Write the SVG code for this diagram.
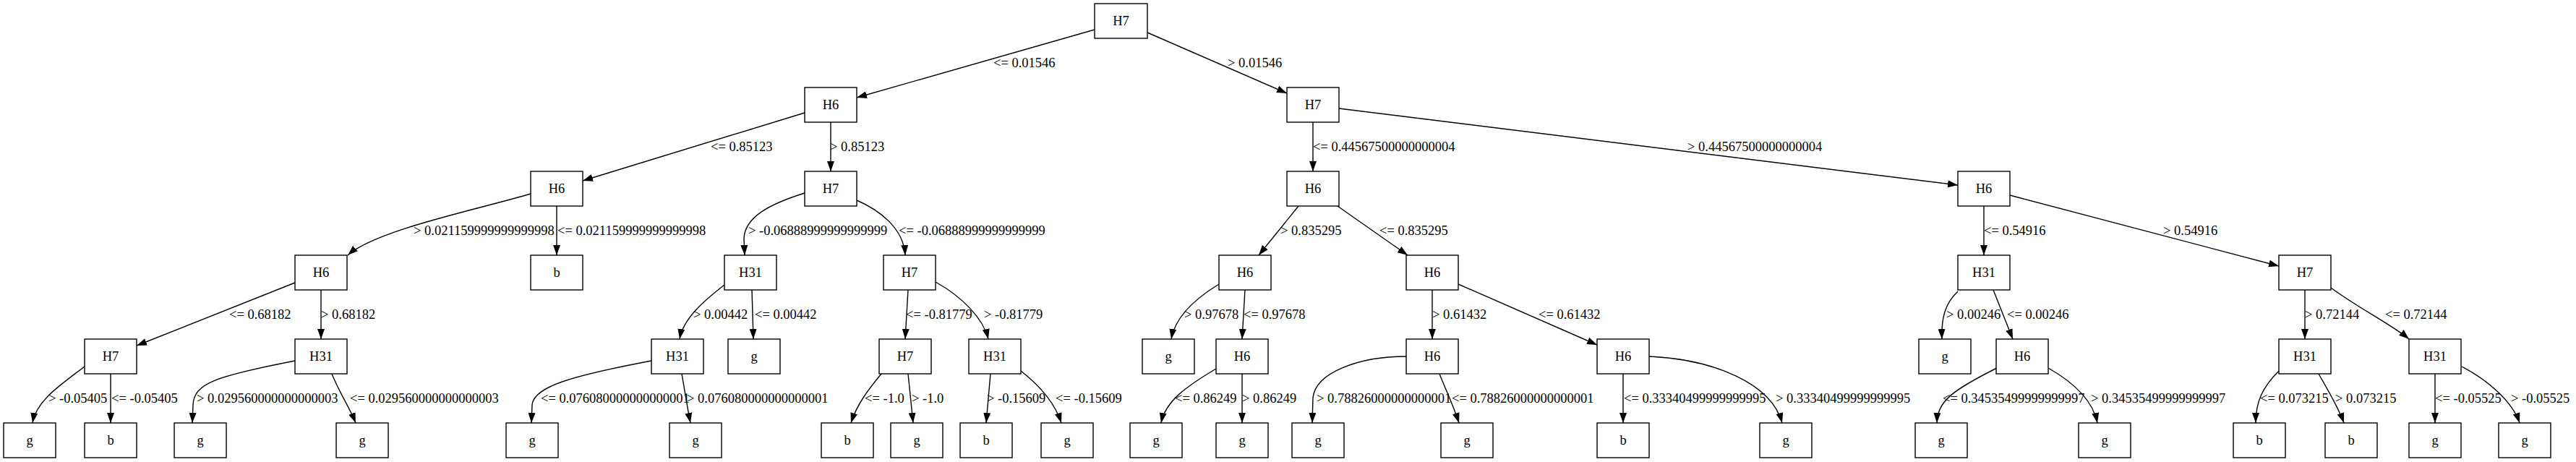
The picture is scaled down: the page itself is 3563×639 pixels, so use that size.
<svg xmlns="http://www.w3.org/2000/svg" width="3563" height="639" viewBox="0 0 3563 639">
<style>
.n rect{fill:#fff;stroke:#000;stroke-width:1.4}
.n text{font-family:"Liberation Serif","Times New Roman",serif;font-size:18.5px;text-anchor:middle;fill:#000}
.e path{fill:none;stroke:#000;stroke-width:1.4;marker-end:url(#ah)}
.l text{font-family:"Liberation Serif","Times New Roman",serif;font-size:18.5px;fill:#000}
</style>
<defs>
<marker id="ah" viewBox="0 0 14 10" refX="14" refY="5" markerWidth="14" markerHeight="10" markerUnits="userSpaceOnUse" orient="auto"><path d="M0,0 L14,5 L0,10 z" fill="#000"/></marker>
</defs>
<rect width="3563" height="639" fill="#fff"/>
<g id="edges" class="e">
<path d="M1514,41 L1185,135"/>
<path d="M1587,45 L1780,129"/>
<path d="M1113,156 L806,250"/>
<path d="M1149,169 L1149,237"/>
<path d="M734,268 C660,290 520,318 481,353"/>
<path d="M770,285 L770,353"/>
<path d="M408,391 L189,478"/>
<path d="M444,401 L444,469"/>
<path d="M117,507 C80,535 50,555 45,585"/>
<path d="M153,517 L153,585"/>
<path d="M408,499 C300,520 268,530 267,560 L266,585"/>
<path d="M459,517 C468,540 484,565 492,585"/>
<path d="M1113,267 C1065,282 1030,300 1029,330 L1030,353"/>
<path d="M1185,277 C1215,290 1250,315 1252,353"/>
<path d="M1002,394 C975,415 945,440 940,469"/>
<path d="M1040,401 L1042,469"/>
<path d="M1256,401 L1252,469"/>
<path d="M1294,390 C1330,410 1360,440 1367,469"/>
<path d="M901,499 C790,520 738,535 736,560 L735,585"/>
<path d="M943,517 C947,540 951,565 955,585"/>
<path d="M1219,517 C1200,540 1185,560 1177,585"/>
<path d="M1256,517 L1263,585"/>
<path d="M1370,517 L1364,585"/>
<path d="M1412,513 C1440,535 1460,560 1468,585"/>
<path d="M1816,169 L1816,237"/>
<path d="M1852,150 L2708,256"/>
<path d="M1796,285 L1741,353"/>
<path d="M1850,285 L1947,353"/>
<path d="M1686,393 C1650,415 1625,440 1620,469"/>
<path d="M1722,401 L1718,469"/>
<path d="M1682,510 C1640,535 1612,555 1606,585"/>
<path d="M1718,517 L1718,585"/>
<path d="M1981,401 L1981,469"/>
<path d="M2017,393 L2209,477"/>
<path d="M1945,493 C1880,493 1820,515 1816,550 L1815,585"/>
<path d="M1991,517 C2000,540 2010,560 2018,585"/>
<path d="M2245,517 L2245,585"/>
<path d="M2281,493 C2370,497 2450,530 2465,585"/>
<path d="M2744,285 L2744,353"/>
<path d="M2780,270 L3152,368"/>
<path d="M2708,403 C2690,420 2685,440 2686,469"/>
<path d="M2757,401 L2784,469"/>
<path d="M2762,509 C2700,540 2680,555 2679,585"/>
<path d="M2833,509 C2870,530 2895,555 2901,585"/>
<path d="M3188,401 L3188,469"/>
<path d="M3224,398 C3260,425 3310,450 3332,469"/>
<path d="M3152,513 C3130,535 3120,555 3120,585"/>
<path d="M3207,517 C3220,540 3235,565 3242,585"/>
<path d="M3368,517 L3368,585"/>
<path d="M3405,507 C3440,525 3475,555 3485,585"/>
</g>
<g id="edge-labels" class="l">
<text x="1374" y="93">&lt;= 0.01546</text>
<text x="1698" y="93">&gt; 0.01546</text>
<text x="983" y="209">&lt;= 0.85123</text>
<text x="1148" y="209">&gt; 0.85123</text>
<text x="1816" y="209">&lt;= 0.44567500000000004</text>
<text x="2334" y="209">&gt; 0.44567500000000004</text>
<text x="572" y="325">&gt; 0.021159999999999998</text>
<text x="771" y="325">&lt;= 0.021159999999999998</text>
<text x="1035" y="325">&gt; -0.06888999999999999</text>
<text x="1243" y="325">&lt;= -0.06888999999999999</text>
<text x="1771" y="325">&gt; 0.835295</text>
<text x="1908" y="325">&lt;= 0.835295</text>
<text x="2744" y="325">&lt;= 0.54916</text>
<text x="2992" y="325">&gt; 0.54916</text>
<text x="317" y="441">&lt;= 0.68182</text>
<text x="444" y="441">&gt; 0.68182</text>
<text x="959" y="441">&gt; 0.00442</text>
<text x="1044" y="441">&lt;= 0.00442</text>
<text x="1253" y="441">&lt;= -0.81779</text>
<text x="1361" y="441">&gt; -0.81779</text>
<text x="1638" y="441">&gt; 0.97678</text>
<text x="1720" y="441">&lt;= 0.97678</text>
<text x="1981" y="441">&gt; 0.61432</text>
<text x="2128" y="441">&lt;= 0.61432</text>
<text x="2692" y="441">&gt; 0.00246</text>
<text x="2776" y="441">&lt;= 0.00246</text>
<text x="3188" y="441">&gt; 0.72144</text>
<text x="3299" y="441">&lt;= 0.72144</text>
<text x="67" y="557">&gt; -0.05405</text>
<text x="154" y="557">&lt;= -0.05405</text>
<text x="272" y="557">&gt; 0.029560000000000003</text>
<text x="484" y="557">&lt;= 0.029560000000000003</text>
<text x="748" y="557">&lt;= 0.076080000000000001</text>
<text x="950" y="557">&gt; 0.076080000000000001</text>
<text x="1196" y="557">&lt;= -1.0</text>
<text x="1261" y="557">&gt; -1.0</text>
<text x="1365" y="557">&gt; -0.15609</text>
<text x="1460" y="557">&lt;= -0.15609</text>
<text x="1625" y="557">&lt;= 0.86249</text>
<text x="1718" y="557">&gt; 0.86249</text>
<text x="1821" y="557">&gt; 0.78826000000000001</text>
<text x="2008" y="557">&lt;= 0.78826000000000001</text>
<text x="2246" y="557">&lt;= 0.33340499999999995</text>
<text x="2456" y="557">&gt; 0.33340499999999995</text>
<text x="2687" y="557">&lt;= 0.34535499999999997</text>
<text x="2892" y="557">&gt; 0.34535499999999997</text>
<text x="3126" y="557">&lt;= 0.073215</text>
<text x="3230" y="557">&gt; 0.073215</text>
<text x="3368" y="557">&lt;= -0.05525</text>
<text x="3473" y="557">&gt; -0.05525</text>
</g>
<g id="n0" class="n"><rect x="1514" y="5" width="73" height="48"/><text x="1550.5" y="35">H7</text></g>
<g id="n1" class="n"><rect x="1113" y="121" width="72" height="48"/><text x="1149" y="151">H6</text></g>
<g id="n2" class="n"><rect x="1780" y="121" width="72" height="48"/><text x="1816" y="151">H7</text></g>
<g id="n3" class="n"><rect x="734" y="237" width="72" height="48"/><text x="770" y="267">H6</text></g>
<g id="n4" class="n"><rect x="1113" y="237" width="72" height="48"/><text x="1149" y="267">H7</text></g>
<g id="n5" class="n"><rect x="1780" y="237" width="72" height="48"/><text x="1816" y="267">H6</text></g>
<g id="n6" class="n"><rect x="2708" y="237" width="72" height="48"/><text x="2744" y="267">H6</text></g>
<g id="n7" class="n"><rect x="408" y="353" width="72" height="48"/><text x="444" y="383">H6</text></g>
<g id="n8" class="n"><rect x="734" y="353" width="72" height="48"/><text x="770" y="383">b</text></g>
<g id="n9" class="n"><rect x="1002" y="353" width="72" height="48"/><text x="1038" y="383">H31</text></g>
<g id="n10" class="n"><rect x="1222" y="353" width="72" height="48"/><text x="1258" y="383">H7</text></g>
<g id="n11" class="n"><rect x="1686" y="353" width="72" height="48"/><text x="1722" y="383">H6</text></g>
<g id="n12" class="n"><rect x="1945" y="353" width="72" height="48"/><text x="1981" y="383">H6</text></g>
<g id="n13" class="n"><rect x="2708" y="353" width="72" height="48"/><text x="2744" y="383">H31</text></g>
<g id="n14" class="n"><rect x="3152" y="353" width="72" height="48"/><text x="3188" y="383">H7</text></g>
<g id="n15" class="n"><rect x="117" y="469" width="72" height="48"/><text x="153" y="499">H7</text></g>
<g id="n16" class="n"><rect x="408" y="469" width="72" height="48"/><text x="444" y="499">H31</text></g>
<g id="n17" class="n"><rect x="901" y="469" width="72" height="48"/><text x="937" y="499">H31</text></g>
<g id="n18" class="n"><rect x="1007" y="469" width="72" height="48"/><text x="1043" y="499">g</text></g>
<g id="n19" class="n"><rect x="1216" y="469" width="72" height="48"/><text x="1252" y="499">H7</text></g>
<g id="n20" class="n"><rect x="1340" y="469" width="72" height="48"/><text x="1376" y="499">H31</text></g>
<g id="n21" class="n"><rect x="1580" y="469" width="72" height="48"/><text x="1616" y="499">g</text></g>
<g id="n22" class="n"><rect x="1682" y="469" width="72" height="48"/><text x="1718" y="499">H6</text></g>
<g id="n23" class="n"><rect x="1945" y="469" width="72" height="48"/><text x="1981" y="499">H6</text></g>
<g id="n24" class="n"><rect x="2209" y="469" width="72" height="48"/><text x="2245" y="499">H6</text></g>
<g id="n25" class="n"><rect x="2654" y="469" width="72" height="48"/><text x="2690" y="499">g</text></g>
<g id="n26" class="n"><rect x="2761" y="469" width="72" height="48"/><text x="2797" y="499">H6</text></g>
<g id="n27" class="n"><rect x="3152" y="469" width="72" height="48"/><text x="3188" y="499">H31</text></g>
<g id="n28" class="n"><rect x="3332" y="469" width="72" height="48"/><text x="3368" y="499">H31</text></g>
<g id="n29" class="n"><rect x="5" y="585" width="72" height="48"/><text x="41" y="615">g</text></g>
<g id="n30" class="n"><rect x="117" y="585" width="72" height="48"/><text x="153" y="615">b</text></g>
<g id="n31" class="n"><rect x="241" y="585" width="72" height="48"/><text x="277" y="615">g</text></g>
<g id="n32" class="n"><rect x="465" y="585" width="72" height="48"/><text x="501" y="615">g</text></g>
<g id="n33" class="n"><rect x="700" y="585" width="72" height="48"/><text x="736" y="615">g</text></g>
<g id="n34" class="n"><rect x="926" y="585" width="72" height="48"/><text x="962" y="615">g</text></g>
<g id="n35" class="n"><rect x="1136" y="585" width="72" height="48"/><text x="1172" y="615">b</text></g>
<g id="n36" class="n"><rect x="1232" y="585" width="72" height="48"/><text x="1268" y="615">g</text></g>
<g id="n37" class="n"><rect x="1328" y="585" width="72" height="48"/><text x="1364" y="615">b</text></g>
<g id="n38" class="n"><rect x="1440" y="585" width="72" height="48"/><text x="1476" y="615">g</text></g>
<g id="n39" class="n"><rect x="1563" y="585" width="72" height="48"/><text x="1599" y="615">g</text></g>
<g id="n40" class="n"><rect x="1682" y="585" width="72" height="48"/><text x="1718" y="615">g</text></g>
<g id="n41" class="n"><rect x="1787" y="585" width="72" height="48"/><text x="1823" y="615">g</text></g>
<g id="n42" class="n"><rect x="1993" y="585" width="72" height="48"/><text x="2029" y="615">g</text></g>
<g id="n43" class="n"><rect x="2209" y="585" width="72" height="48"/><text x="2245" y="615">b</text></g>
<g id="n44" class="n"><rect x="2434" y="585" width="72" height="48"/><text x="2470" y="615">g</text></g>
<g id="n45" class="n"><rect x="2649" y="585" width="72" height="48"/><text x="2685" y="615">g</text></g>
<g id="n46" class="n"><rect x="2875" y="585" width="72" height="48"/><text x="2911" y="615">g</text></g>
<g id="n47" class="n"><rect x="3089" y="585" width="72" height="48"/><text x="3125" y="615">b</text></g>
<g id="n48" class="n"><rect x="3216" y="585" width="72" height="48"/><text x="3252" y="615">b</text></g>
<g id="n49" class="n"><rect x="3332" y="585" width="72" height="48"/><text x="3368" y="615">g</text></g>
<g id="n50" class="n"><rect x="3456" y="585" width="72" height="48"/><text x="3492" y="615">g</text></g>
</svg>
